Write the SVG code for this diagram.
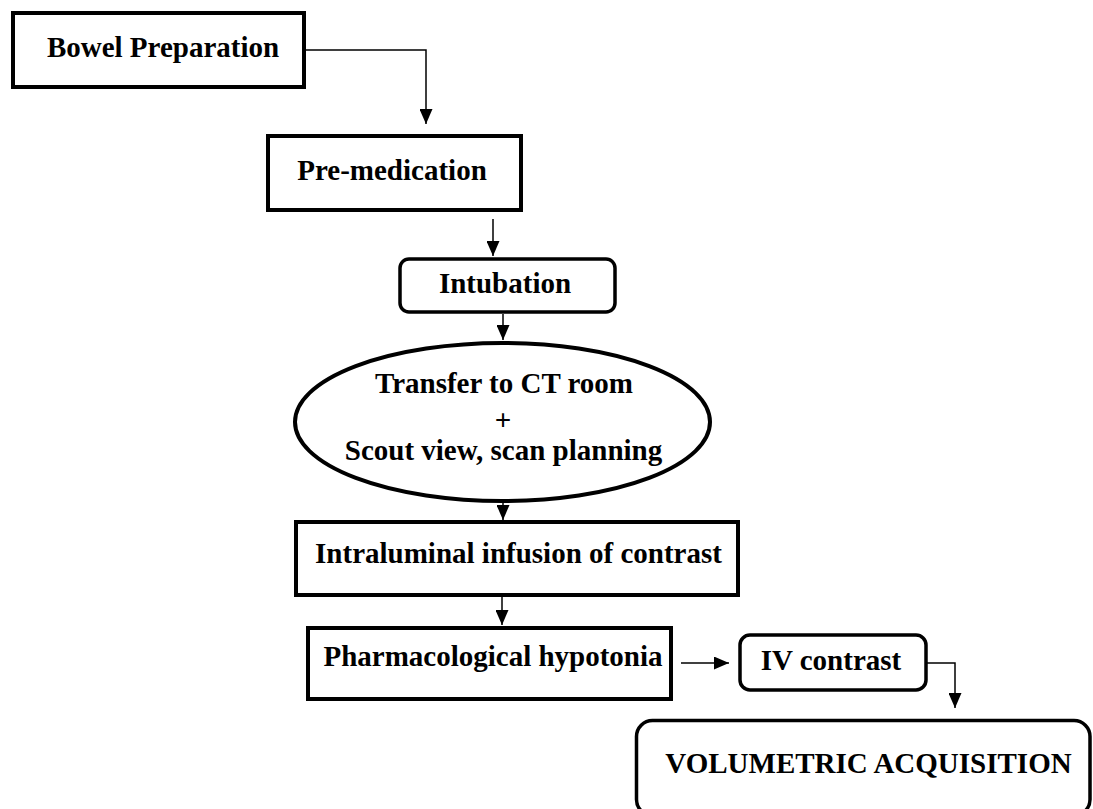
<svg xmlns="http://www.w3.org/2000/svg" width="1093" height="809" viewBox="0 0 1093 809">
<style>
.box{fill:#fff;stroke:#000;stroke-width:4}
.rbox{fill:#fff;stroke:#000;stroke-width:3.5}
.lbl{font-family:"Liberation Serif","Times New Roman",serif;font-weight:bold;font-size:29px;fill:#000;text-anchor:middle}
.conn{fill:none;stroke:#000;stroke-width:1.5}
</style>
<defs>
<marker id="ah" markerUnits="userSpaceOnUse" markerWidth="15" markerHeight="13" refX="15" refY="6.5" orient="auto" viewBox="0 0 15 13">
<path d="M0,0 L15,6.5 L0,13 z" fill="#000"/>
</marker>
</defs>
<rect width="1093" height="809" fill="#fff"/>
<g id="connectors">
<path class="conn" d="M304,50 H426 V124" marker-end="url(#ah)"/>
<path class="conn" d="M493,219 V256" marker-end="url(#ah)"/>
<path class="conn" d="M503,314 V340" marker-end="url(#ah)"/>
<path class="conn" d="M503,503 V520" marker-end="url(#ah)"/>
<path class="conn" d="M502,597 V625" marker-end="url(#ah)"/>
<path class="conn" d="M681,663 H729" marker-end="url(#ah)"/>
<path class="conn" d="M927,663 H955 V708" marker-end="url(#ah)"/>
</g>
<g id="bowel">
<rect class="box" x="13" y="13" width="291" height="74"/>
<text class="lbl" x="163" y="57">Bowel Preparation</text>
</g>
<g id="premed">
<rect class="box" x="268" y="136" width="253" height="74"/>
<text class="lbl" x="392" y="180">Pre-medication</text>
</g>
<g id="intubation">
<rect class="rbox" x="400" y="259" width="215" height="53" rx="9"/>
<text class="lbl" x="505" y="293">Intubation</text>
</g>
<g id="transfer">
<ellipse class="box" cx="502.5" cy="422" rx="207.5" ry="79"/>
<text class="lbl" x="504" y="393">Transfer to CT room</text>
<text class="lbl" x="503" y="430">+</text>
<text class="lbl" x="503.5" y="460">Scout view, scan planning</text>
</g>
<g id="intraluminal">
<rect class="box" x="296" y="522" width="442" height="73"/>
<text class="lbl" x="518.5" y="563">Intraluminal infusion of contrast</text>
</g>
<g id="hypotonia">
<rect class="box" x="308" y="628" width="363" height="71"/>
<text class="lbl" x="493" y="666">Pharmacological hypotonia</text>
</g>
<g id="ivcontrast">
<rect class="rbox" x="740" y="635" width="186" height="55" rx="10"/>
<text class="lbl" x="831" y="670">IV contrast</text>
</g>
<g id="volumetric">
<rect class="rbox" x="636.5" y="720.5" width="453.5" height="95" rx="16"/>
<text class="lbl" x="868.5" y="773">VOLUMETRIC ACQUISITION</text>
</g>
</svg>
